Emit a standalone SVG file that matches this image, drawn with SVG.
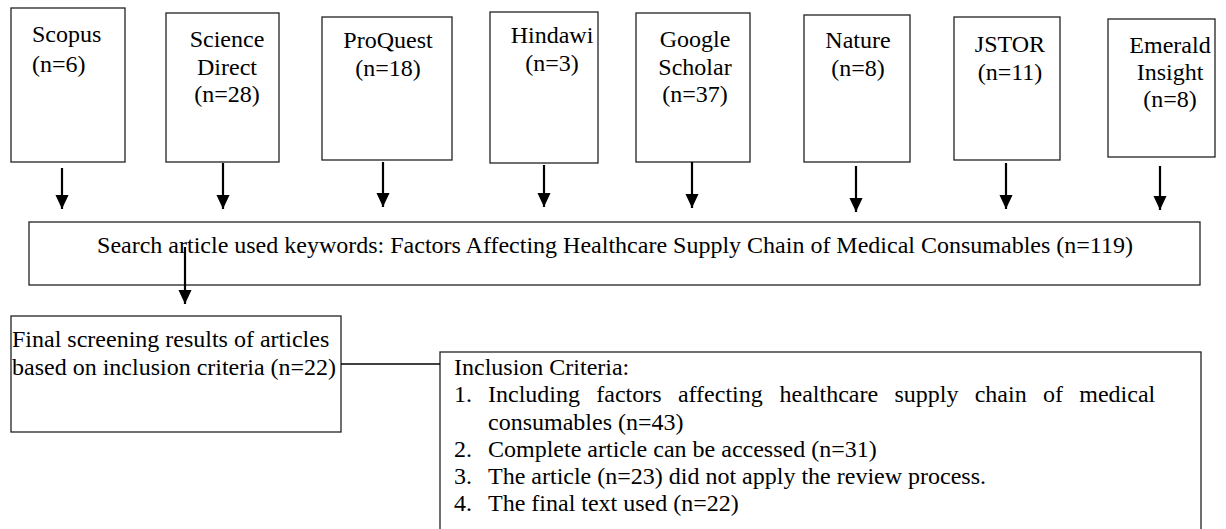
<svg xmlns="http://www.w3.org/2000/svg" width="1226" height="529" viewBox="0 0 1226 529">
<style>
.box{fill:#fff;stroke:#222;stroke-width:1.3}
.t{font-family:"Liberation Serif","Times New Roman",serif;font-size:24px;fill:#000}
.c{text-anchor:middle}
.arr{stroke:#000;stroke-width:2.2;fill:none}
.ln{stroke:#000;stroke-width:1.3;fill:none}
</style>
<defs>
<marker id="ah" markerUnits="userSpaceOnUse" markerWidth="14" markerHeight="16" refX="15" refY="7" orient="auto" viewBox="0 0 15 14">
<path d="M0,0 L15,7 L0,14 z" fill="#000"/>
</marker>
</defs>
<rect width="1226" height="529" fill="#fff"/>

<g id="scopus">
<rect class="box" x="11" y="8" width="114" height="154"/>
<text class="t" x="32" y="42">Scopus</text>
<text class="t" x="32" y="72">(n=6)</text>
</g>
<g id="sciencedirect">
<rect class="box" x="166" y="13" width="113" height="149"/>
<text class="t c" x="227" y="47">Science</text>
<text class="t c" x="227" y="75">Direct</text>
<text class="t c" x="227" y="102">(n=28)</text>
</g>
<g id="proquest">
<rect class="box" x="322" y="17" width="130" height="143"/>
<text class="t c" x="388" y="48">ProQuest</text>
<text class="t c" x="388" y="76">(n=18)</text>
</g>
<g id="hindawi">
<rect class="box" x="490" y="12" width="108" height="151"/>
<text class="t c" x="552" y="43">Hindawi</text>
<text class="t c" x="552" y="71">(n=3)</text>
</g>
<g id="googlescholar">
<rect class="box" x="636" y="13" width="114" height="149"/>
<text class="t c" x="695" y="47">Google</text>
<text class="t c" x="695" y="75">Scholar</text>
<text class="t c" x="695" y="102">(n=37)</text>
</g>
<g id="nature">
<rect class="box" x="804" y="15" width="106" height="147"/>
<text class="t c" x="858" y="48">Nature</text>
<text class="t c" x="858" y="76">(n=8)</text>
</g>
<g id="jstor">
<rect class="box" x="954" y="17" width="106" height="143"/>
<text class="t c" x="1010" y="52">JSTOR</text>
<text class="t c" x="1010" y="80">(n=11)</text>
</g>
<g id="emerald">
<rect class="box" x="1108" y="19" width="107" height="138"/>
<text class="t c" x="1170" y="53">Emerald</text>
<text class="t c" x="1170" y="80">Insight</text>
<text class="t c" x="1170" y="107">(n=8)</text>
</g>

<g id="search">
<rect class="box" x="29" y="222" width="1171" height="63"/>
<text class="t c" x="615" y="253">Search article used keywords: Factors Affecting Healthcare Supply Chain of Medical Consumables (n=119)</text>
</g>

<g id="final">
<rect class="box" x="11" y="316" width="330" height="116"/>
<text class="t" x="12" y="347">Final screening results of articles</text>
<text class="t" x="12" y="375">based on inclusion criteria (n=22)</text>
</g>

<g id="criteria">
<rect class="box" x="440" y="352" width="761" height="200"/>
<text class="t" x="454" y="375">Inclusion Criteria:</text>
<text class="t" y="402"><tspan x="454">1.</tspan><tspan x="488">Including</tspan><tspan x="596.3">factors</tspan><tspan x="677.9">affecting</tspan><tspan x="779.5">healthcare</tspan><tspan x="894.4">supply</tspan><tspan x="974.7">chain</tspan><tspan x="1043">of</tspan><tspan x="1079.3">medical</tspan></text>
<text class="t" x="488" y="430">consumables (n=43)</text>
<text class="t" y="457"><tspan x="454">2.</tspan><tspan x="488">Complete article can be accessed (n=31)</tspan></text>
<text class="t" y="484"><tspan x="454">3.</tspan><tspan x="488">The article (n=23) did not apply the review process.</tspan></text>
<text class="t" y="511"><tspan x="454">4.</tspan><tspan x="488">The final text used (n=22)</tspan></text>
</g>

<g id="connectors">
<line class="arr" x1="62" y1="168" x2="62" y2="209" marker-end="url(#ah)"/>
<line class="arr" x1="223" y1="163" x2="223" y2="209" marker-end="url(#ah)"/>
<line class="arr" x1="383" y1="162" x2="383" y2="207" marker-end="url(#ah)"/>
<line class="arr" x1="544" y1="165" x2="544" y2="207" marker-end="url(#ah)"/>
<line class="arr" x1="692" y1="162" x2="692" y2="208" marker-end="url(#ah)"/>
<line class="arr" x1="856" y1="166" x2="856" y2="212" marker-end="url(#ah)"/>
<line class="arr" x1="1006" y1="163" x2="1006" y2="209" marker-end="url(#ah)"/>
<line class="arr" x1="1160" y1="166" x2="1160" y2="210" marker-end="url(#ah)"/>
<line class="arr" x1="185" y1="247" x2="185" y2="304" marker-end="url(#ah)"/>
<line class="ln" x1="341" y1="364" x2="440" y2="364"/>
</g>
</svg>
